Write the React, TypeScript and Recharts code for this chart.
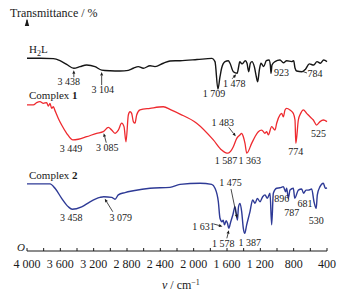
import React from "react";
import { LineChart, Line, XAxis, YAxis, ReferenceDot } from "recharts";

// IR spectra, [wavenumber cm-1, transmittance (offset, a.u.)]
const h2lPoints: [number, number][] = [
  [4000, 84.2], [3840, 84.2], [3684, 84.0], [3604, 83.1], [3524, 81.5], [3438, 79.8],
  [3364, 80.5], [3284, 81.2], [3184, 80.5], [3104, 79.0], [3004, 78.7], [2884, 78.6],
  [2784, 78.9], [2724, 79.8], [2664, 80.5], [2604, 79.8], [2524, 80.9], [2464, 80.5],
  [2364, 82.0], [2284, 83.0], [2164, 83.1], [1960, 83.6], [1780, 84.1], [1744, 82.7],
  [1709, 70.7], [1684, 76.1], [1664, 79.9], [1624, 82.7], [1584, 83.1], [1564, 82.0],
  [1524, 78.3], [1478, 77.6], [1460, 80.5], [1448, 82.7], [1420, 81.7], [1380, 83.1],
  [1360, 82.0], [1340, 78.3], [1320, 82.0], [1300, 82.7], [1272, 80.5], [1248, 76.1],
  [1232, 73.9], [1212, 79.0], [1192, 82.0], [1160, 80.5], [1128, 83.1], [1096, 83.4],
  [1080, 81.2], [1072, 77.6], [1060, 81.2], [1024, 82.7], [964, 83.4], [923, 82.2],
  [884, 83.1], [824, 82.7], [800, 83.1], [784, 79.9], [764, 78.6], [700, 78.3],
  [660, 79.3], [612, 81.7], [560, 81.2], [520, 82.7], [480, 82.0], [440, 83.4], [400, 82.7],
];

const complex1Points: [number, number][] = [
  [4000, 63.8], [3924, 63.8], [3884, 64.8], [3844, 65.2], [3804, 64.5], [3764, 64.8],
  [3744, 63.3], [3724, 64.5], [3704, 62.3], [3684, 63.0], [3664, 61.3], [3624, 57.9],
  [3584, 55.0], [3524, 51.4], [3449, 48.5], [3384, 48.8], [3284, 49.9], [3164, 51.4],
  [3085, 52.1], [3024, 54.0], [2984, 52.8], [2944, 51.4], [2904, 52.8], [2864, 55.8],
  [2836, 54.3], [2812, 47.7], [2784, 59.4], [2764, 60.8], [2744, 60.1], [2724, 56.5],
  [2704, 55.8], [2684, 59.4], [2644, 61.6], [2524, 62.3], [2364, 63.0], [2272, 61.6],
  [2164, 59.8], [1964, 55.8], [1764, 48.5], [1664, 44.1], [1620, 43.0], [1587, 42.7],
  [1555, 43.6], [1524, 45.5], [1483, 49.2], [1444, 50.7], [1424, 51.4], [1404, 49.9],
  [1384, 47.0], [1363, 42.7], [1304, 47.0], [1264, 49.9], [1224, 52.1], [1184, 52.8],
  [1144, 51.4], [1124, 52.1], [1104, 50.7], [1064, 54.3], [1024, 52.8], [1004, 55.8],
  [964, 59.4], [944, 60.1], [924, 58.6], [904, 61.6], [884, 62.3], [844, 61.6],
  [804, 60.1], [784, 57.2], [774, 47.0], [744, 57.2], [716, 60.1], [684, 61.6],
  [644, 60.1], [604, 58.6], [564, 57.2], [525, 55.0], [484, 56.5], [444, 57.2], [400, 56.5],
];

const complex2Points: [number, number][] = [
  [4000, 29.3], [3724, 29.3], [3664, 27.4], [3584, 23.0], [3504, 19.3], [3458, 18.2],
  [3344, 19.3], [3244, 21.5], [3124, 23.4], [3079, 23.7], [2984, 23.4], [2944, 22.6],
  [2904, 24.5], [2824, 25.5], [2724, 26.3], [2524, 27.4], [2284, 27.8], [2164, 29.1],
  [1924, 29.6], [1784, 29.1], [1744, 27.4], [1704, 21.5], [1684, 14.3], [1660, 12.8],
  [1645, 13.5], [1631, 11.4], [1610, 13.2], [1595, 12.2], [1578, 9.9], [1555, 12.8],
  [1530, 15.7], [1504, 19.3], [1475, 13.5], [1462, 19.3], [1444, 20.8], [1424, 17.2],
  [1404, 9.9], [1387, 7.7], [1364, 11.4], [1324, 17.2], [1292, 22.3], [1264, 20.8],
  [1236, 23.0], [1204, 21.5], [1172, 23.7], [1144, 24.5], [1116, 23.0], [1084, 25.2],
  [1064, 11.4], [1044, 25.2], [1004, 27.4], [964, 27.6], [924, 28.1], [896, 25.9],
  [884, 27.4], [864, 23.0], [844, 26.6], [804, 27.4], [787, 23.0], [744, 26.6],
  [704, 27.1], [681, 25.2], [652, 26.6], [624, 26.6], [584, 27.1], [556, 21.5],
  [530, 18.6], [516, 24.5], [484, 28.1], [444, 29.6], [420, 27.4], [400, 27.6],
];

const waveTicks = [
  4000, 3800, 3600, 3400, 3200, 3000, 2800, 2600, 2400, 2200, 2000,
  1800, 1600, 1400, 1200, 1000, 800, 600, 400,
];

// labelled bands
const h2lPeaks = [3438, 3104, 1709, 1478, 923, 784];
const complex1Peaks = [3449, 3085, 1483, 1587, 1363, 774, 525];
const complex2Peaks = [3458, 3079, 1475, 1631, 1578, 1387, 896, 787, 681, 530];

// label placement relative to the band point, in px
type Layout = { dx: number; dy: number; arrow?: number[]; dash?: number[] };
const noteLayout: Record<number, Layout> = {
  3438: { dx: -5, dy: 17.2, arrow: [0, 9, 0, 2] },
  3104: { dx: 1, dy: 23.4, arrow: [0, 15, 0, 2] },
  1709: { dx: -4, dy: 8 },
  1478: { dx: -3, dy: 13.7, arrow: [-5, 5.5, -1, 1] },
  923: { dx: -2, dy: 13.7 },
  784: { dx: 20, dy: 8.5, dash: [8, 3.5, 12, 5] },
  3449: { dx: -2, dy: 11.6 },
  3085: { dx: 4, dy: 19.8, arrow: [3, 11, 0.5, 1.5] },
  1483: { dx: -14, dy: -12.8, arrow: [-8, -11, -1, -2] },
  1587: { dx: -2, dy: 10.3 },
  1363: { dx: 3, dy: 10.3 },
  774: { dx: 0, dy: 11.6 },
  525: { dx: 2, dy: 11.5 },
  3458: { dx: -1, dy: 11.2 },
  3079: { dx: 17, dy: 23.8, arrow: [9, 15, 1, 2] },
  1475: { dx: -7, dy: -33.6, arrow: [-6.4, -31, -0.4, -2] },
  1631: { dx: -21, dy: 5, arrow: [-11, -1, -2, 1.5] },
  1578: { dx: -5.5, dy: 18.2, arrow: [-2, 10, 0, 2] },
  1387: { dx: 5, dy: 13 },
  896: { dx: -4, dy: 10 },
  787: { dx: -3, dy: 18 },
  681: { dx: 1.5, dy: 14 },
  530: { dx: 0, dy: 16 },
};

const serif = "'Liberation Serif', 'Times New Roman', serif";
const ink = "#1a1a1a";

const toRows = (pts: [number, number][]) => pts.map(([w, t]) => ({ w, t }));
const h2lData = toRows(h2lPoints);
const complex1Data = toRows(complex1Points);
const complex2Data = toRows(complex2Points);

const fmtWave = (v: number) => {
  if (v % 400 !== 0) return "";
  if (v < 1000) return String(v);
  return `${Math.floor(v / 1000)} ${String(v % 1000).padStart(3, "0")}`;
};
const fmtPeak = (w: number) =>
  w < 1000 ? String(w) : `${Math.floor(w / 1000)} ${String(w % 1000).padStart(3, "0")}`;

function ArrowLine({ x1, y1, x2, y2, head }: { x1: number; y1: number; x2: number; y2: number; head: boolean }) {
  const a = Math.atan2(y2 - y1, x2 - x1);
  const len = 3.5;
  const hw = 1.5;
  const bx = x2 - len * Math.cos(a);
  const by = y2 - len * Math.sin(a);
  const px = -Math.sin(a) * hw;
  const py = Math.cos(a) * hw;
  return (
    <g>
      <line x1={x1} y1={y1} x2={head ? bx : x2} y2={head ? by : y2} stroke={ink} strokeWidth={0.8} />
      {head && (
        <polygon points={`${x2},${y2} ${bx + px},${by + py} ${bx - px},${by - py}`} fill={ink} />
      )}
    </g>
  );
}

function PeakNote({ cx, cy, w }: { cx: number; cy: number; w: number }) {
  const l = noteLayout[w];
  if (!l || cx == null || cy == null) return null;
  return (
    <g>
      {l.arrow && (
        <ArrowLine x1={cx + l.arrow[0]} y1={cy + l.arrow[1]} x2={cx + l.arrow[2]} y2={cy + l.arrow[3]} head />
      )}
      {l.dash && (
        <ArrowLine x1={cx + l.dash[0]} y1={cy + l.dash[1]} x2={cx + l.dash[2]} y2={cy + l.dash[3]} head={false} />
      )}
      <text x={cx + l.dx} y={cy + l.dy} textAnchor="middle" fontSize={10} fontFamily={serif} fill={ink}>
        {fmtPeak(w)}
      </text>
    </g>
  );
}

function notes(peaks: number[], pts: [number, number][], key: string) {
  return peaks.map((w) => {
    const p = pts.find((d) => d[0] === w);
    if (!p) return null;
    return (
      <ReferenceDot
        key={`${key}-${w}`}
        x={w}
        y={p[1]}
        r={0}
        ifOverflow="visible"
        shape={(props: any) => <PeakNote cx={props.cx} cy={props.cy} w={w} />}
      />
    );
  });
}

export default function App() {
  return (
    <div style={{ position: "absolute", left: 0, top: 0, width: 342, height: 292, background: "#fff" }}>
      <LineChart width={342} height={292} margin={{ top: 22, right: 15, bottom: 0, left: 27 }}>
        <XAxis
          dataKey="w"
          type="number"
          domain={[400, 4000]}
          reversed
          ticks={waveTicks}
          interval={0}
          tickFormatter={fmtWave}
          tickSize={-3}
          tickMargin={11}
          height={41}
          axisLine={{ stroke: ink }}
          tickLine={{ stroke: ink }}
          tick={{ fill: ink, fontSize: 12, fontFamily: serif }}
        />
        <YAxis
          type="number"
          domain={[0, 100]}
          width={0}
          tick={false}
          tickLine={false}
          axisLine={{ stroke: ink }}
        />
        <Line data={h2lData} dataKey="t" type="monotone" stroke="#151515" strokeWidth={1.4} dot={false} isAnimationActive={false} />
        <Line data={complex1Data} dataKey="t" type="monotone" stroke="#ee2a2f" strokeWidth={1.3} dot={false} isAnimationActive={false} />
        <Line data={complex2Data} dataKey="t" type="monotone" stroke="#2e3a96" strokeWidth={1.4} dot={false} isAnimationActive={false} />
        {notes(h2lPeaks, h2lPoints, "a")}
        {notes(complex1Peaks, complex1Points, "b")}
        {notes(complex2Peaks, complex2Points, "c")}
      </LineChart>
      <svg width={342} height={292} style={{ position: "absolute", left: 0, top: 0, pointerEvents: "none" }}>
        <line x1={27} y1={23} x2={27} y2={20} stroke={ink} strokeWidth={1} />
        <polygon points="27,18.5 24.8,26 29.2,26" fill={ink} />
        <text x={10} y={16.5} fontSize={12} fontFamily={serif} fill={ink}>Transmittance / %</text>
        <text x={29} y={53} fontSize={11} fontFamily={serif} fill={ink}>
          H<tspan fontSize={8} dy={3}>2</tspan><tspan dy={-3}>L</tspan>
        </text>
        <text x={29} y={99} fontSize={11} fontFamily={serif} fill={ink}>
          Complex <tspan fontWeight="bold">1</tspan>
        </text>
        <text x={29} y={179} fontSize={11} fontFamily={serif} fill={ink}>
          Complex <tspan fontWeight="bold">2</tspan>
        </text>
        <text x={17} y={251} fontSize={11} fontStyle="italic" fontFamily={serif} fill={ink}>O</text>
        <text x={162} y={289} fontSize={12} fontFamily={serif} fill={ink}>
          <tspan fontStyle="italic">ν</tspan> / cm<tspan fontSize={8} dy={-4}>−1</tspan>
        </text>
      </svg>
    </div>
  );
}
